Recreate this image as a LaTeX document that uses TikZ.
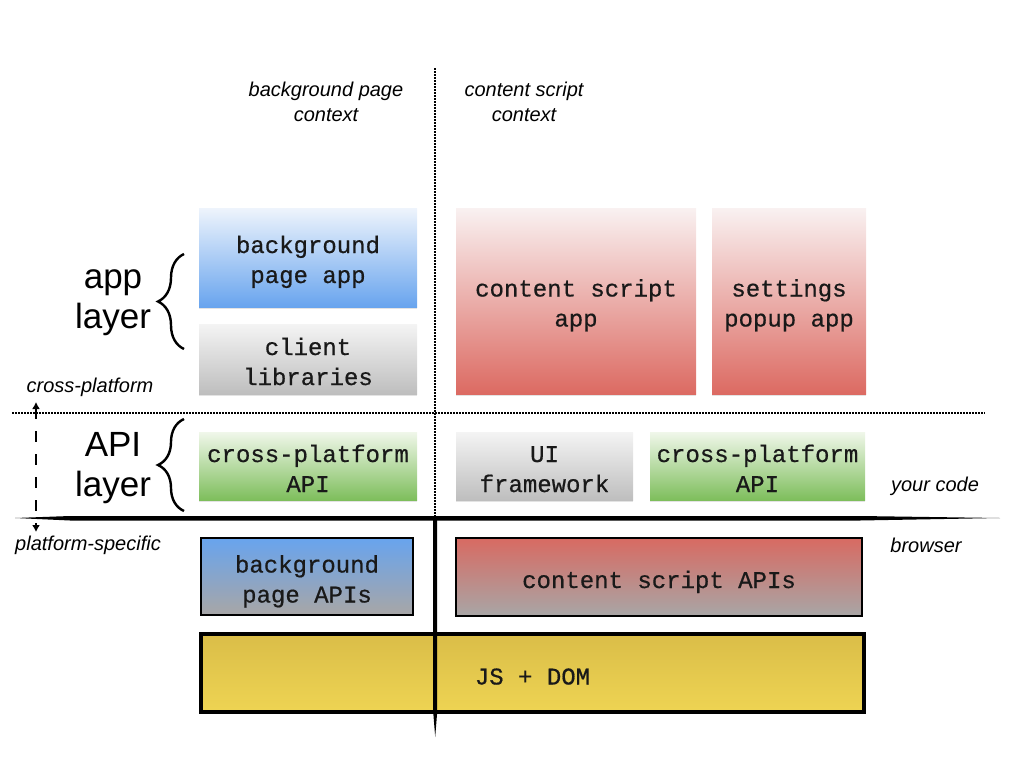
\documentclass[tikz,border=0pt]{standalone}
\usepackage{fontspec}
\setmainfont{Liberation Sans}
\setmonofont{Liberation Mono}
\newfontfamily\boxmono[FakeBold=0.6]{Liberation Mono}
\usetikzlibrary{arrows,arrows.meta,decorations.pathreplacing,calc,positioning,shadows}
\definecolor{bluetop}{HTML}{EEF4FC}
\definecolor{bluebot}{HTML}{68A4EE}
\definecolor{greytop}{HTML}{F4F4F4}
\definecolor{greybot}{HTML}{BEBEBE}
\definecolor{redtop}{HTML}{F9F1F1}
\definecolor{redbot}{HTML}{DC6A62}
\definecolor{greentop}{HTML}{F0F7EA}
\definecolor{greenbot}{HTML}{7EBE5C}
\definecolor{apibot}{HTML}{A8A6A6}
\definecolor{apired}{HTML}{D86A62}
\definecolor{yeltop}{HTML}{DABD48}
\definecolor{yelbot}{HTML}{EED453}
\newcommand{\boxfont}{\boxmono\fontsize{24}{30}\selectfont}
\tikzset{
    txtsty/.style={inner sep=0pt,align=center,font=\boxfont,anchor=center,text=black!90,
                   execute at begin node={\rule{0pt}{#1}},
                   execute at end node={\rule[-4pt]{0pt}{4pt}}},
    txtsty/.default=27pt,
    boxsty/.style={rectangle,txtsty=#1,
                   drop shadow={shadow xshift=0pt,shadow yshift=-2pt,opacity=0.22}},
    boxsty/.default=56pt,
    bluesty/.style={boxsty,top color=bluetop,bottom color=bluebot},
    greysty/.style={boxsty,top color=greytop,bottom color=greybot},
    redsty/.style={boxsty,top color=redtop,bottom color=redbot},
    greensty/.style={boxsty,top color=greentop,bottom color=greenbot},
    apisty/.style={rectangle,txtsty=#1,draw=black,line width=2.5pt},
    apisty/.default=27pt,
    ctxsty/.style={align=center,font=\itshape\fontsize{20}{25}\selectfont},
    sidesty/.style={font=\itshape\fontsize{20}{25}\selectfont},
    layersty/.style={align=center,font=\fontsize{35}{40}\selectfont},
    bracesty/.style={decorate,decoration={brace,amplitude=26pt},line width=2.4pt},
    dotsty/.style={line width=1.5pt,dash pattern=on 1.5pt off 1.5pt},
}

\begin{document}
\begin{tikzpicture}[x=1pt,y=-1pt,>={Latex[length=7pt,width=8pt]}]
  \useasboundingbox (0,0) rectangle (1024,768);

  % contexts
  \node[ctxsty] (bgctx) at (326,102) {background page\\context};
  \node[ctxsty] (csctx) at (524,102) {content script\\context};

  % app layer
  \node[bluesty,minimum width=218pt,minimum height=99pt] (bgapp) at (308,257.5) {background\\page app};
  \node[greysty,minimum width=218pt,minimum height=70pt] (clib) at (308,359) {client\\libraries};
  \node[redsty,minimum width=240pt,minimum height=186pt] (csapp) at (576,301) {content script\\app};
  \node[redsty,minimum width=154pt,minimum height=186pt] (popup) at (789,301) {settings\\popup app};

  % API layer
  \node[greensty,minimum width=218pt,minimum height=68pt] (xapil) at (308,466) {cross-platform\\API};
  \node[greysty,minimum width=177pt,minimum height=68pt] (uifw) at (544.5,466) {UI\\framework};
  \node[greensty,minimum width=215pt,minimum height=68pt] (xapir) at (757.5,466) {cross-platform\\API};

  % browser
  \node[apisty=57pt,top color=bluebot,bottom color=apibot,minimum width=212pt,minimum height=77pt] (bgapi) at (307,576.5) {background\\page APIs};
  \node[apisty,top color=apired,bottom color=apibot,minimum width=406pt,minimum height=78pt] (csapi) at (659,577) {content script APIs};
  \node[apisty,line width=4pt,top color=yeltop,bottom color=yelbot,minimum width=663pt,minimum height=78pt] (jsdom) at (532.5,673) {JS + DOM};

  % separators
  \draw[dotsty] (435,68) -- (435,517);
  \draw[dotsty] (12,413) -- (985,413);
  \fill (15,518) -- (70,516) -- (860,516) -- (1000,518) -- (860,520.5) -- (70,520.5) -- cycle;
  \fill (433.2,518) -- (437.2,518) -- (437.2,712) -- (435.2,737) -- (433.2,712) -- cycle;

  % layer labels
  \node[layersty] (applayer) at (113,303) {app\\layer};
  \node[layersty] (apilayer) at (113,468) {API\\layer};
  \draw[bracesty] (184,349) -- (184,254);
  \draw[bracesty] (184,511) -- (184,419);

  % side labels
  \node[sidesty] (xplat) at (90,387) {cross-platform};
  \node[sidesty] (pspec) at (88,545) {platform-specific};
  \node[sidesty] (ycode) at (935,486) {your code};
  \node[sidesty] (brows) at (926,545) {browser};
  \coordinate (arrtop) at (36,402);
  \coordinate (arrbot) at (36,532);
  \draw[<->,line width=2pt,dash pattern=on 11pt off 12pt] (arrtop) -- (arrbot);
\end{tikzpicture}
\end{document}
